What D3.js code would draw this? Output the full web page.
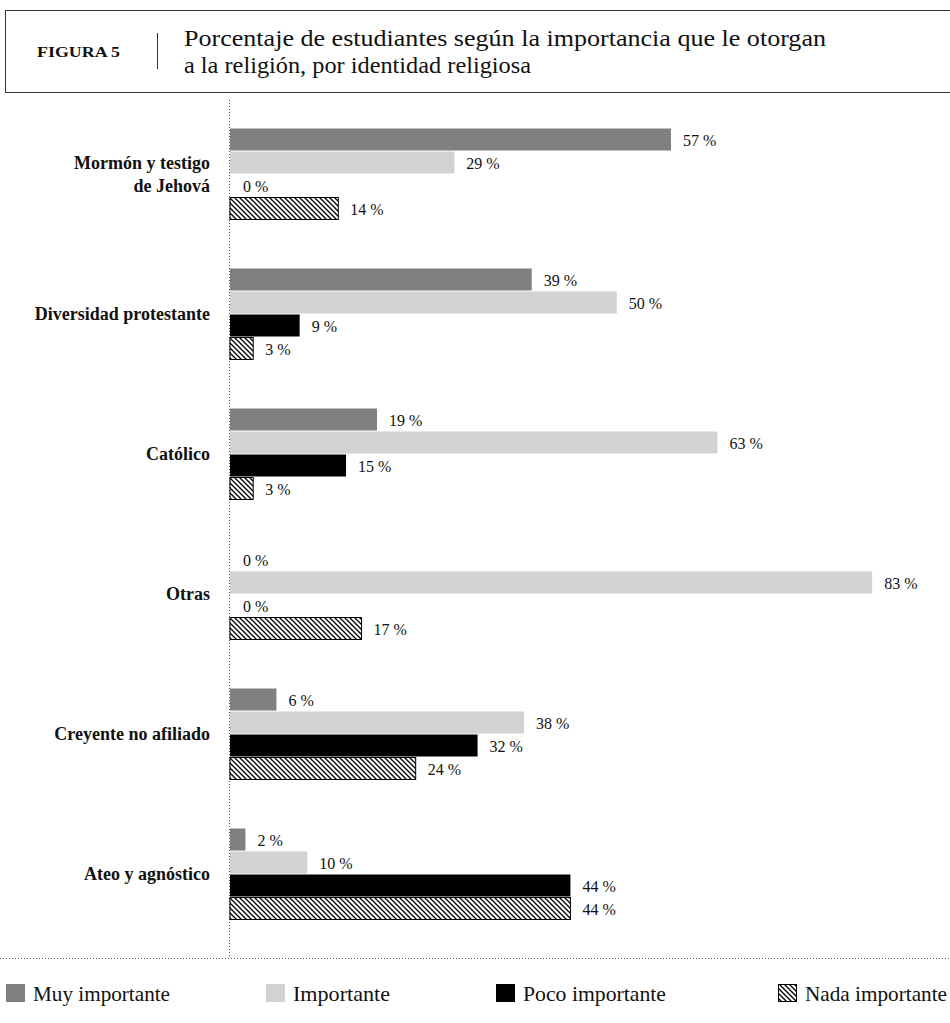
<!DOCTYPE html>
<html><head><meta charset="utf-8">
<script src="https://cdn.jsdelivr.net/npm/d3@7/dist/d3.min.js"></script>
<style>body{margin:0;background:#fff}svg{display:block}text{font-family:"Liberation Serif","DejaVu Serif",serif;fill:#111}</style>
</head><body><svg id="c" width="950" height="1023"></svg>
<script>
const categories = [["Mormón y testigo","de Jehová"],["Diversidad protestante"],["Católico"],["Otras"],["Creyente no afiliado"],["Ateo y agnóstico"]];
const seriesNames = ["Muy importante","Importante","Poco importante","Nada importante"];
const muyImportante = [57,39,19,0,6,2];
const importante = [29,50,63,83,38,10];
const pocoImportante = [0,9,15,0,32,44];
const nadaImportante = [14,3,3,17,24,44];
const seriesValues = [muyImportante, importante, pocoImportante, nadaImportante];

const svg = d3.select("#c");
const defs = svg.append("defs");
const pat = defs.append("pattern").attr("id","hatch").attr("patternUnits","userSpaceOnUse").attr("width",5).attr("height",5);
pat.append("rect").attr("width",5).attr("height",5).attr("fill","#fff");
pat.append("path").attr("d","M0,0 L5,5 M-1,4 L1,6 M4,-1 L6,1").attr("stroke","#000").attr("stroke-width",1.3);
const fills = ["#808083","#d1d2d4","#000","url(#hatch)"];

// Header
svg.append("rect").attr("x",5.5).attr("y",10.5).attr("width",960).attr("height",82).attr("fill","none").attr("stroke","#333").attr("stroke-width",1);
svg.append("text").attr("x",37).attr("y",57).attr("font-size",15).attr("font-weight","bold").attr("textLength",83).attr("lengthAdjust","spacingAndGlyphs").text("FIGURA 5");
svg.append("line").attr("x1",157.5).attr("x2",157.5).attr("y1",33).attr("y2",69).attr("stroke","#333");
svg.append("text").attr("x",184).attr("y",46).attr("font-size",24).attr("textLength",642).attr("lengthAdjust","spacingAndGlyphs").text("Porcentaje de estudiantes según la importancia que le otorgan");
svg.append("text").attr("x",184).attr("y",73).attr("font-size",24).attr("textLength",347).attr("lengthAdjust","spacingAndGlyphs").text("a la religión, por identidad religiosa");

// Scales
const x = d3.scaleLinear().domain([0,57]).range([230,671]);
const yGroup = d3.scaleBand().domain(d3.range(categories.length)).range([128,128+140*6]);
const yInner = d3.scaleBand().domain(d3.range(4)).range([0,92]);

// Axis lines
svg.append("line").attr("x1",229.5).attr("x2",229.5).attr("y1",100).attr("y2",958).attr("stroke","#555").attr("stroke-dasharray","1,2");
svg.append("line").attr("x1",0).attr("x2",950).attr("y1",958.5).attr("y2",958.5).attr("stroke","#555").attr("stroke-dasharray","1,2");

categories.forEach((cat,i)=>{
  const g = svg.append("g").attr("transform",`translate(0,${yGroup(i)})`);
  const lbl = g.append("text").attr("x",210).attr("text-anchor","end").attr("font-size",18).attr("font-weight","bold");
  const cy = 46;
  cat.forEach((line,k)=>{
    lbl.append("tspan").attr("x",210).attr("y",cy + 6 + (k-(cat.length-1)/2)*23).text(line);
  });
  seriesValues.forEach((vals,s)=>{
    const v = vals[i];
    const y0 = yInner(s), h = yInner.bandwidth();
    if (v>0) {
      g.append("rect").attr("x",x(0)).attr("y",y0+0.5).attr("width",x(v)-x(0)).attr("height",h-1)
        .attr("fill",fills[s]).attr("stroke", s===3 ? "#000" : "none").attr("stroke-width",1);
    }
    g.append("text").attr("x",x(v)+ (v===0?13:12)).attr("y",y0+h/2+6).attr("font-size",16).text(v+" %");
  });
});

// Legend
const lx = [6,266,496,778];
const lw = [137,97,143,142];
seriesNames.forEach((n,s)=>{
  svg.append("rect").attr("x",lx[s]+(s===3?0.5:0)).attr("y",984+(s===3?0.5:0)).attr("width",s===3?18:19).attr("height",s===3?17:18).attr("fill",fills[s]).attr("stroke",s===3?"#000":"none");
  svg.append("text").attr("x",lx[s]+27).attr("y",1001).attr("font-size",21).attr("textLength",lw[s]).attr("lengthAdjust","spacingAndGlyphs").text(n);
});
</script></body></html>
